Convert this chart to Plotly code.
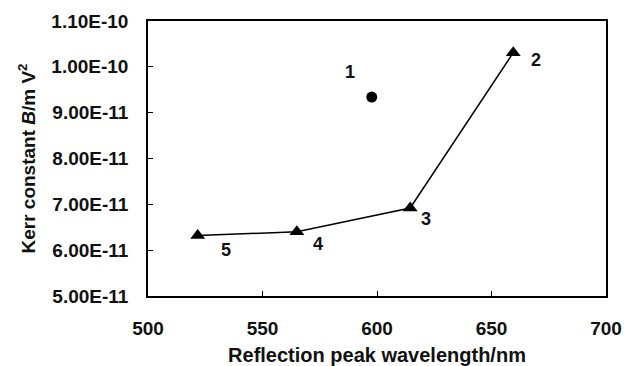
import plotly.graph_objects as go

# Data
wavelength_line = [521.7, 565.0, 614.5, 659.5]
kerr_line = [6.32e-11, 6.40e-11, 6.92e-11, 1.031e-10]
labels_line = ["5", "4", "3", "2"]
wavelength_pt = [597.7]
kerr_pt = [9.34e-11]
labels_pt = ["1"]
y_tickvals = [5e-11, 6e-11, 7e-11, 8e-11, 9e-11, 1e-10, 1.1e-10]
y_ticktext = ["<b>5.00E-11</b>", "<b>6.00E-11</b>", "<b>7.00E-11</b>", "<b>8.00E-11</b>",
              "<b>9.00E-11</b>", "<b>1.00E-10</b>", "<b>1.10E-10</b>"]
x_tickvals = [500, 550, 600, 650, 700]
x_ticktext = ["<b>500</b>", "<b>550</b>", "<b>600</b>", "<b>650</b>", "<b>700</b>"]

FONT = "Liberation Sans, Arial, sans-serif"
TXT = "#111111"

fig = go.Figure()
fig.add_trace(go.Scatter(
    x=wavelength_line, y=kerr_line, mode="lines+markers",
    line=dict(color="black", width=1.5),
    marker=dict(symbol="triangle-up", size=13, color="black"),
    showlegend=False,
))
fig.add_trace(go.Scatter(
    x=wavelength_pt, y=kerr_pt, mode="markers",
    marker=dict(symbol="circle", size=11, color="black"),
    showlegend=False,
))

# Point labels (offsets in pixels)
offsets = {"5": (28, 14), "4": (21, 12), "3": (16, 11), "2": (23, 7), "1": (-22, -25)}
for x, y, t in list(zip(wavelength_line, kerr_line, labels_line)) + list(zip(wavelength_pt, kerr_pt, labels_pt)):
    dx, dy = offsets[t]
    fig.add_annotation(x=x, y=y, text="<b>" + t + "</b>", showarrow=False, xshift=dx, yshift=-dy,
                       font=dict(family=FONT, size=18, color=TXT))

fig.update_layout(
    width=631, height=366,
    margin=dict(l=148, r=25, t=21, b=70),
    paper_bgcolor="white", plot_bgcolor="white",
    font=dict(family=FONT, size=18, color=TXT),
    xaxis=dict(
        range=[500, 700], tickvals=x_tickvals, ticktext=x_ticktext,
        ticks="inside", ticklen=5, ticklabelstandoff=14, automargin=False,
        tickcolor="black", showline=True, linecolor="black", linewidth=1.5,
        mirror=True, showgrid=False, zeroline=False,
        title=dict(text="<b>Reflection peak wavelength/nm</b>", standoff=16,
                   font=dict(family=FONT, size=20, color=TXT)),
        tickfont=dict(family=FONT, size=19, color=TXT),
    ),
    yaxis=dict(
        range=[5e-11, 1.1e-10], tickvals=y_tickvals, ticktext=y_ticktext,
        ticks="inside", ticklen=5, ticklabelstandoff=14, automargin=False,
        tickcolor="black", showline=True,
        linecolor="black", linewidth=1.5, mirror=True, showgrid=False,
        zeroline=False,
        title=dict(text="<b>Kerr constant <i>B</i>/m V<sup>2</sup></b>", standoff=11,
                   font=dict(family=FONT, size=19, color=TXT)),
        tickfont=dict(family=FONT, size=19, color=TXT),
    ),
)

fig.write_html(
    "out.html",
    config={"displayModeBar": False},
    post_script="document.body.style.margin='0';document.body.style.overflow='hidden';",
)
